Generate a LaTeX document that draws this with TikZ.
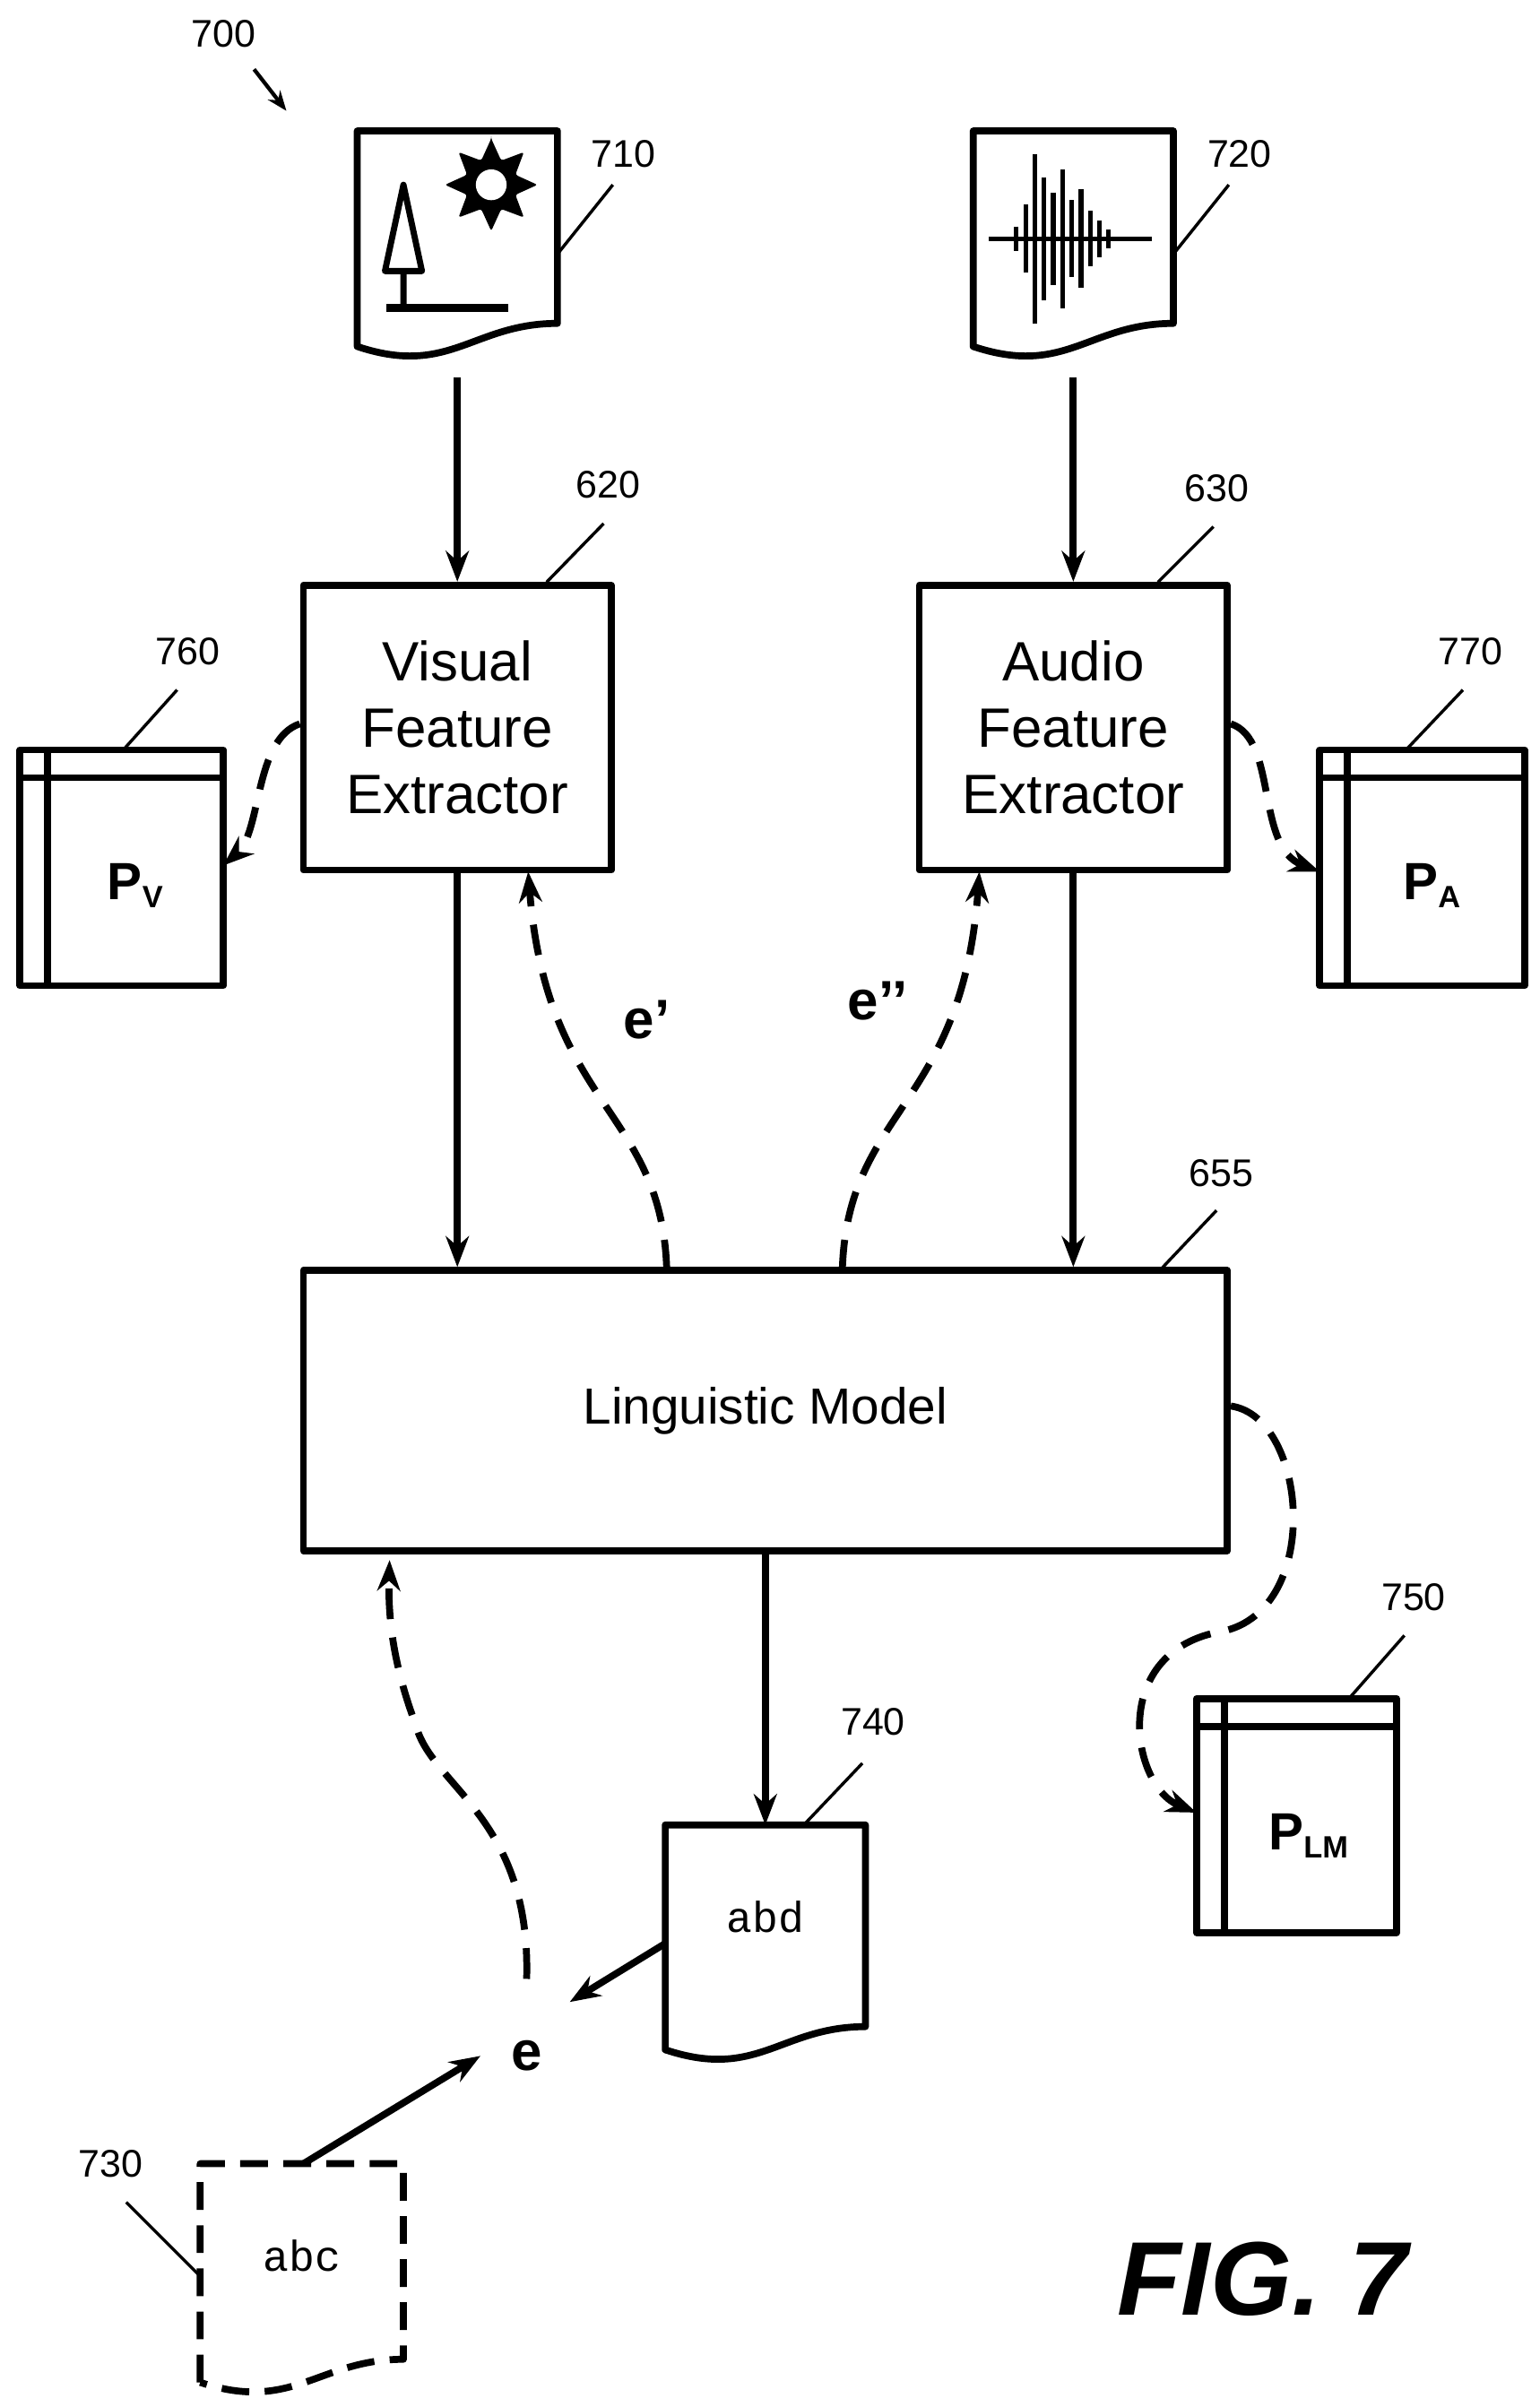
\documentclass[tikz,border=0pt]{standalone}
\usepackage{fontspec}
\setmainfont{Liberation Sans}
\setmonofont{Liberation Mono}
\usetikzlibrary{arrows.meta}
\begin{document}
\begin{tikzpicture}[x=1pt,y=-1pt,line width=4.5pt,line join=round,
  box/.style={draw,line width=4.5pt,minimum width=200pt,inner sep=0pt,font=\fontsize{36}{43}\selectfont,align=center},
  lbl/.style={font=\fontsize{25}{28}\selectfont},
  lead/.style={line width=2pt},
  arr/.style={-{Stealth[length=20pt,width=15pt]}},
  darr/.style={-{Stealth[length=20pt,width=15pt]},dash pattern=on 20pt off 12pt},
  ph/.style={draw=none,minimum width=0pt,inner sep=0pt}]
\useasboundingbox (0,0) rectangle (1000,1563);
\newcommand{\mydoc}[5][]{%
  \draw[#1] (#2,#5-5) -- (#2,#3) -- (#4,#3) -- (#4,#5-20) .. controls (#4-55,#5-20) and (#2+60,#5+15) .. (#2,#5-5) -- cycle;}
\newcommand{\mytab}[4]{%
  \draw (#1,#2) rectangle (#3,#4);
  \draw (#1+18,#2) -- (#1+18,#4) (#1,#2+18) -- (#3,#2+18);}
% 700
\node[lbl] (n700) at (145,22) {700};
\coordinate (a700) at (186,72);
\draw[line width=2.5pt,-{Stealth[length=13pt,width=10pt]}] (165,45) -- (a700);
% doc 710
\mydoc{232}{85}{362}{230}
\node[ph,minimum width=130pt,minimum height=130pt] (d710) at (297,155) {};
\draw[line width=4pt] (262,120) -- (250,176) -- (274,176) -- cycle (262,176) -- (262,200);
\draw[line width=5pt] (251,200) -- (330,200);
\fill[shift={(319,120)},rounded corners=1.5pt] (-90:30) \foreach \a in {0,45,...,315} { -- (\a-90:30) -- (\a-67.5:17)} -- cycle;
\fill[white] (319,120) circle (10pt);
\node[lbl] (n710) at (405,100) {710};
\draw[lead] (362,165) -- (398,120);
% doc 720
\mydoc{632}{85}{762}{230}
\node[ph,minimum width=130pt,minimum height=130pt] (d720) at (697,155) {};
\draw[line width=3pt] (642,155) -- (748,155);
\foreach \x/\h in {660/8,666/22,672/55,678/40,684/30,690/45,696/25,702/32,708/18,714/12,720/6}
  \draw[line width=3pt] (\x,155-\h) -- (\x,155+\h);
\node[lbl] (n720) at (805,100) {720};
\draw[lead] (762,165) -- (798,120);
% feature extractors
\node[box,minimum height=185pt] (vfe) at (297,472.5) {Visual\\Feature\\Extractor};
\node[box,minimum height=185pt] (afe) at (697,472.5) {Audio\\Feature\\Extractor};
\node[lbl] (n620) at (395,315) {620};
\draw[lead] (355,378) -- (392,340);
\node[lbl] (n630) at (790,317) {630};
\draw[lead] (752,378) -- (788,342);
\draw[arr] (d710.south |- 0,245) -- (vfe.north);
\draw[arr] (d720.south |- 0,245) -- (afe.north);
% tables
\mytab{13}{487}{145}{640}
\node[font=\bfseries\fontsize{34}{40}\selectfont] (pv) at (88,575) {P\textsubscript{\fontsize{20}{24}\selectfont V}};
\mytab{857}{487}{990}{640}
\node[font=\bfseries\fontsize{34}{40}\selectfont] (pa) at (930,575) {P\textsubscript{\fontsize{20}{24}\selectfont A}};
\mytab{777}{1103}{907}{1255}
\node[font=\bfseries\fontsize{34}{40}\selectfont] (plm) at (850,1192) {P\textsubscript{\fontsize{20}{24}\selectfont LM}};
\node[lbl] (n760) at (122,423) {760};
\draw[lead] (80,487) -- (115,448);
\node[lbl] (n770) at (955,423) {770};
\draw[lead] (913,487) -- (950,448);
\node[lbl] (n750) at (918,1037) {750};
\draw[lead] (876,1103) -- (912,1062);
\coordinate (pvin) at (145,562);
\coordinate (pain) at (857,566);
\coordinate (plmin) at (777,1177);
\draw[darr] (vfe.west |- 0,470) .. controls (165,480) and (170,540) .. (pvin);
\draw[darr] (afe.east |- 0,470) .. controls (830,480) and (815,550) .. (pain);
% LM
\node[box,minimum width=600pt,minimum height=182pt,font=\fontsize{33}{40}\selectfont] (lm) at (497,916) {Linguistic Model};
\node[lbl] (n655) at (793,762) {655};
\draw[lead] (755,823) -- (790,786);
\draw[arr] (vfe.south) -- (vfe.south |- lm.north);
\draw[arr] (afe.south) -- (afe.south |- lm.north);
\coordinate (ep1) at (343,566);
\coordinate (ep2) at (636,566);
\draw[darr] (433,825) .. controls (430,720) and (355,720) .. (ep1);
\draw[darr] (547,825) .. controls (550,720) and (625,720) .. (ep2);
\node[font=\bfseries\fontsize{36}{40}\selectfont] (e1) at (420,662) {e’};
\node[font=\bfseries\fontsize{36}{40}\selectfont] (e2) at (570,650) {e’’};
\draw[darr] (lm.east |- 0,913) .. controls (850,920) and (860,1050) .. (790,1060) .. controls (720,1075) and (735,1160) .. (plmin);
% 740
\mydoc{432}{1185}{562}{1336}
\node[font=\ttfamily\fontsize{28}{32}\selectfont] (abd) at (497,1245) {abd};
\draw[arr] (lm.south) -- (497,1185);
\node[lbl] (n740) at (567,1118) {740};
\draw[lead] (522,1185) -- (560,1145);
% e
\node[font=\bfseries\fontsize{36}{40}\selectfont] (e) at (342,1335) {e};
\coordinate (ein) at (370,1300);
\draw[arr] (432,1262) -- (ein);
\coordinate (lmb) at (253,1013);
\draw[darr] (342,1285) .. controls (345,1180) and (280,1160) .. (270,1120) .. controls (255,1080) and (252,1050) .. (lmb);
% 730
\mydoc[dash pattern=on 18pt off 10pt]{130}{1405}{262}{1552}
\node[font=\ttfamily\fontsize{28}{32}\selectfont] (abc) at (196,1465) {abc};
\node[lbl] (n730) at (72,1405) {730};
\draw[lead] (130,1478) -- (82,1430);
\coordinate (ein2) at (312,1335);
\draw[arr] (197,1405) -- (ein2);
\node[font=\bfseries\itshape\fontsize{68}{80}\selectfont] (fig) at (820,1480) {FIG. 7};
\end{tikzpicture}
\end{document}
